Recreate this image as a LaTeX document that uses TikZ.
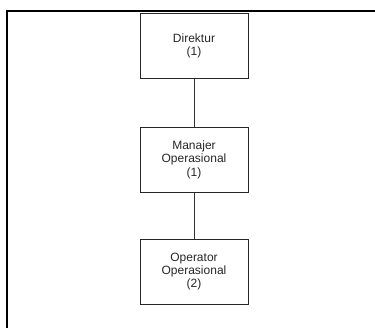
\documentclass[tikz,border=0pt]{standalone}
\usepackage{fontspec}
\setmainfont{Liberation Sans}
\usetikzlibrary{positioning}
\tikzset{
  orgbox/.style={draw=black!85, line width=0.9pt, minimum width=108pt, minimum height=65pt,
    inner sep=0pt, align=center, font=\fontsize{12}{13.4}\selectfont, text=black!85},
  orgline/.style={draw=black!80, line width=0.9pt}
}
\begin{document}
\begin{tikzpicture}[x=1pt, y=-1pt]
        \useasboundingbox (0,0) rectangle (375,327);
        \draw [line width=2pt] (376,11) -- (6.8,11) -- (6.8,328);
        \node [orgbox] (direktur) at (194,45.8) {Direktur\\(1)};
        \node [orgbox] (manajer) at (194,159.8) {Manajer\\Operasional\\(1)};
        \node [orgbox] (operator) at (194,271.5) {Operator\\Operasional\\(2)};
        \draw [orgline] (direktur) -- (manajer);
        \draw [orgline] (manajer) -- (operator);
      \end{tikzpicture}
\end{document}
